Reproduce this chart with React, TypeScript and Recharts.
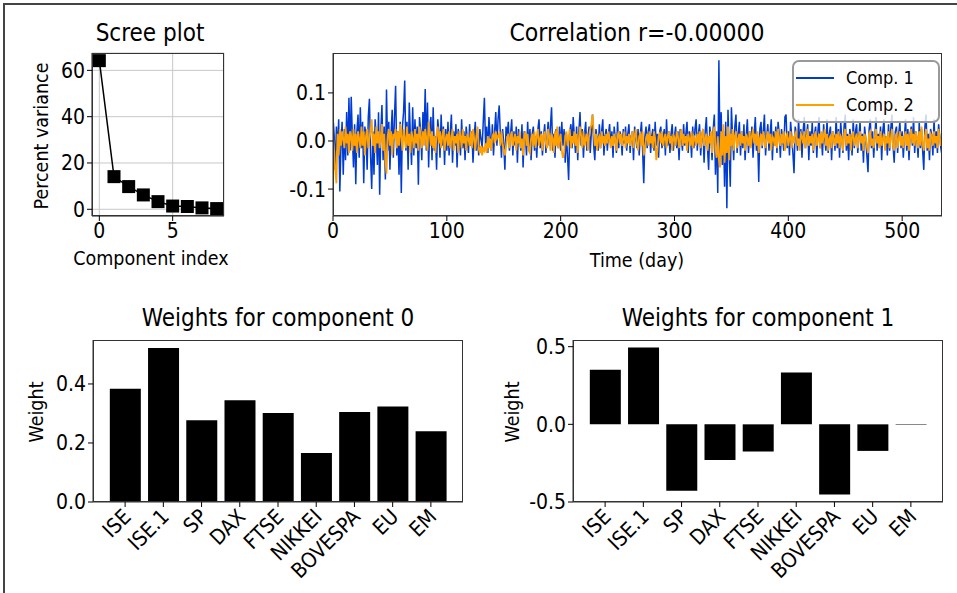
import React from 'react';
import { LineChart, Line, BarChart, Bar, XAxis, YAxis, CartesianGrid, Legend } from 'recharts';

const FONT = '"Liberation Sans Narrow", "DejaVu Sans Condensed", "Roboto Condensed", sans-serif';

// scree plot
const screeIndex = [0, 1, 2, 3, 4, 5, 6, 7, 8];
const screeVariance = [64.2, 14.1, 9.8, 6.2, 3.3, 1.4, 1.2, 0.6, 0.3];

// component weights
const markets = ['ISE', 'ISE.1', 'SP', 'DAX', 'FTSE', 'NIKKEI', 'BOVESPA', 'EU', 'EM'];
const weights0 = [0.384, 0.522, 0.277, 0.345, 0.302, 0.166, 0.305, 0.324, 0.24];
const weights1 = [0.351, 0.495, -0.427, -0.229, -0.175, 0.334, -0.452, -0.171, -0.003];

// component scores per day, in thousandths
const comp1Milli = [
  50, 12, -60, 30, -20, 45, -105, -10, 40, -70, 25, -40, 60, -30, 90, -20, 92, 10, -55, 35,
  -90, 20, 55, -35, 70, -15, 40, -88, 30, 10, -60, 50, 88, -30, -100, 20, -70, 45, 10, -50,
  60, -112, 20, 75, -40, 30, -80, 107, -20, 40, -60, 15, 65, -35, 50, 115, -30, 20, -70, 40,
  -108, 30, 60, 126, -20, 40, -60, 80, 10, -50, 70, -30, 45, -15, 30, -91, 50, 20, -40, 60,
  10, 108, -20, 80, -55, 30, 50, -40, 70, -20, 10, -60, 45, 20, -35, 55, -10, 30, -50, 25,
  -20, 40, -30, 15, 55, -45, 20, -10, 35, -55, 25, 10, -30, 45, -15, 20, -40, 30, 5, -25,
  35, -10, 20, -45, 10, 40, -20, 15, -30, 25, 5, -15, 40, 90, -10, 30, -25, 50, 10, -20,
  35, -30, 20, 60, -10, 45, 74, 15, -35, 25, -5, -60, 30, 10, 40, -20, 15, 45, -30, 20,
  -10, 30, -45, 25, 5, -20, 35, -55, 20, 10, -30, 40, -15, 25, -40, 15, 30, -20, 10, -35,
  25, 45, -15, 20, -30, 10, 35, -25, 5, 40, -10, 30, 70, -20, 15, -35, 25, 10, -15, 30,
  -20, 40, -10, 25, -45, 15, -30, -81, 20, 35, -15, 50, 10, -25, 30, -40, 20, 60, -10, 25,
  -35, 15, 40, -20, 10, 30, -25, 20, 55, -10, -40, 25, 5, -20, 35, -15, 20, 45, -30, 10,
  25, -20, 15, 35, -10, 20, -35, 30, 5, -25, 40, -15, 20, 10, -30, 25, -5, 30, -20, 15,
  35, -25, 10, 20, -40, 30, 5, -15, 25, -30, 15, 40, -20, -88, 10, 30, -15, 20, 35, -25,
  10, 25, -20, 40, -10, 15, -35, 20, 30, -15, 5, 25, -30, 45, -10, 20, -25, 15, 35, -20,
  10, 30, -15, 20, -40, 25, 5, -20, 35, -10, 15, 40, -25, 20, 10, -35, 30, -15, 25, 45,
  -20, 15, 35, -30, 10, 25, -45, 20, 50, -15, -60, 30, 10, -40, 25, 55, -70, 20, -108, 168,
  -30, 60, -50, 20, -95, 40, -140, 65, -20, -95, 70, 10, -40, 30, 55, -25, 15, 40, -30, 20,
  -15, 35, -40, 10, 45, -25, 20, -10, 30, -35, 15, 50, -20, 10, -85, 25, 40, -15, 20, 55,
  -30, 10, 35, -20, 15, 45, -40, 20, -10, 30, -25, 40, 15, -35, 25, 5, -20, 50, 55, -15,
  20, -30, 40, 10, -25, -67, 30, 15, -20, 45, -10, 25, -35, 20, 50, -15, 10, 35, -40, 20,
  -10, 40, -25, 15, 30, -35, 20, 50, -15, 10, -30, 35, 5, -20, 45, -25, 15, 30, -40, 20,
  10, -20, 50, -15, 25, -35, 40, 5, -25, 30, 55, -20, 15, -40, 25, 10, -30, 45, -15, 20,
  35, -25, 10, 40, -20, 15, -45, 30, 5, -30, -65, 25, 45, -15, 20, -35, 10, 50, -20, 15,
  -10, 30, -40, 20, 45, -15, 10, -30, 35, -20, 25, 55, -10, -45, 20, 30, -25, 15, 40, -15,
  20, -35, 10, 45, -20, 25, -40, 15, 30, -10, 50, -25, 20, 5, -35, 40, -15, 25, -20, -60,
  30, 55, -20, 15, -40, 25, 10, -30, 45, -15, 20, -25, 35, 10, -15, -30,
];

const comp2Milli = [
  10, -20, -60, -88, 15, -30, 25, -10, 20, 5, -15, 30, -5, 15, -25, 20, 10, -20, 25, -10,
  15, -25, 20, 5, -15, 30, -10, 20, -30, 10, 25, -15, 5, 20, 45, -10, 15, -25, 30, -5,
  20, -15, 10, 35, -20, 15, -40, -68, 10, 25, -10, 20, -30, 15, 5, 25, -15, 20, -10, 35,
  10, -20, 25, 5, -15, 30, -10, 15, -25, 20, 5, -15, 25, -5, 15, -20, 30, 10, -15, 20,
  -10, 25, 5, -20, 40, 15, -10, 20, -15, 10, -25, 15, 30, -5, 20, -15, 10, 25, -20, 5,
  15, -10, 20, -15, 5, 25, -20, 10, -5, 15, -25, 20, 10, -15, 25, -5, 10, -20, 15, 5,
  -10, 20, -15, 25, 5, -20, 10, 30, -15, -25, -10, -30, -15, -20, -5, -25, 10, -15, 5, -20,
  10, 15, -5, 20, 5, 10, 15, -10, 20, -5, -20, -30, -10, 5, 15, -15, 10, 20, -10, 5,
  15, -20, 10, -5, 20, -15, 5, -30, 10, 20, -10, 15, -20, -25, 5, 15, -10, 20, -15, 10,
  25, -10, 5, 15, -20, 10, 20, -5, -15, 25, 10, -20, 15, 5, -25, 20, -10, 30, -15, 5,
  15, -20, -35, -25, 10, 20, -10, 5, 25, -15, 10, -5, 20, -10, 15, -25, 5, 30, 10, -15,
  20, -10, 5, 15, -20, 10, 25, 35, 55, 20, -10, 15, -20, 5, 10, -15, 20, -5, 10, -10,
  15, -5, 20, 5, -15, 10, -10, 15, 5, -20, 10, 20, -5, 15, -10, 5, 20, -15, 10, -5,
  15, -10, 5, 20, -15, 10, 25, -5, -20, 10, 15, -10, 20, -30, -15, 5, 15, -10, 20, -5,
  10, -15, 20, 5, -40, -20, 10, 15, -5, 20, -10, 5, 15, -15, 10, 20, -5, 10, -20, 15,
  5, -10, 20, 10, -15, 5, 25, -10, 15, -5, 10, -20, 15, 5, -10, 20, -15, 10, 5, -10,
  15, -5, 20, -15, 10, 25, -10, 5, 15, -20, 10, -5, 20, -25, 15, 30, -15, -35, 10, -40,
  -55, 20, -30, 35, -45, 10, -25, 30, -40, 15, -10, 25, -20, 10, 20, -15, 5, 15, -10, 20,
  -5, 10, -20, 15, 5, -10, 20, -15, 10, 25, -5, 15, -10, 20, -25, 5, 15, -10, 20, 5,
  -15, 10, 20, -5, 15, -20, 10, 5, -10, 20, -15, 25, 5, -10, 15, -5, 20, -20, 10, 15,
  -10, 5, 20, -15, 10, -5, 15, 20, -10, 5, -20, 15, 10, -5, 20, -15, 5, 25, -10, 10,
  -5, 15, -20, 10, 20, -10, 5, 15, -15, 20, -5, 10, 25, -10, 15, -20, 5, 10, -15, 20,
  5, -10, 15, -5, 20, -15, 10, 5, -20, 15, 25, -10, 10, -5, 15, -20, 10, 20, -10, 5,
  15, -15, 10, 20, -5, 10, -20, 15, 5, -10, -25, 15, 20, -10, 5, -15, 10, 25, -5, 10,
  -15, 20, -10, 5, 15, -20, 10, -5, 20, -15, 5, 25, -10, -20, 10, 15, -15, 5, 20, -10,
  10, -15, 5, 20, -10, 15, -20, 10, 25, -5, 15, -10, 20, 5, -15, 20, -10, 30, -5, -20,
  10, 25, -15, 5, -20, 15, 10, -10, 20, -5, 10, -15, 25, 5, -10, 10,
];

const screeData = screeIndex.map((i, k) => ({ idx: i, pct: screeVariance[k] }));
const seriesData = comp1Milli.map((v, i) => ({ day: i, c1: v / 1000, c2: comp2Milli[i] / 1000 }));
const weightData0 = markets.map((m, i) => ({ name: m, w: weights0[i] }));
const weightData1 = markets.map((m, i) => ({ name: m, w: weights1[i] }));

const TICK_FS = 21;
const tickStyle = { fontSize: TICK_FS, fill: '#000', fontFamily: FONT };
const AX = '#333';
const Y_W = 60;

function Text({ x, y, size, rotate, children }: any) {
  return (
    <div
      style={{
        position: 'absolute', left: x, top: y, fontSize: size, fontFamily: FONT, color: '#000',
        whiteSpace: 'nowrap', lineHeight: 1,
        transform: `translate(-50%, -50%)${rotate ? ' rotate(-90deg)' : ''}`,
      }}
    >
      {children}
    </div>
  );
}

// box around the plotting area (matplotlib spines)
function Frame({ m, w, h, xH }: any) {
  return (
    <div
      style={{
        position: 'absolute', left: m.left + Y_W, top: m.top,
        width: w - m.left - m.right - Y_W, height: h - m.top - m.bottom - xH,
        border: `1px solid ${AX}`, boxSizing: 'border-box', pointerEvents: 'none',
      }}
    />
  );
}

const SquareDot = (props: any) => {
  const { cx, cy, index } = props;
  return <rect key={index} x={cx - 6.5} y={cy - 6.5} width={13} height={13} fill="#000" />;
};

// 45 degree labels hanging below-right of the tick
const RotTick = (props: any) => {
  const { x, y, payload } = props;
  return (
    <text
      transform={`translate(${x + 7},${y + 9}) rotate(-45)`}
      textAnchor="end"
      fontSize={TICK_FS}
      fontFamily={FONT}
      fill="#000"
    >
      {payload.value}
    </text>
  );
};

const renderLegend = (props: any) => (
  <div
    style={{
      width: 148, height: 63, boxSizing: 'border-box', border: '2px solid #999', borderRadius: 7,
      background: 'rgba(255,255,255,0.8)', padding: '2px 0 0 2px', fontFamily: FONT,
    }}
  >
    {(props.payload || []).map((p: any) => (
      <div key={p.value} style={{ display: 'flex', alignItems: 'center', height: 27 }}>
        <span style={{ width: 38, height: 0, borderTop: `2px solid ${p.color}`, marginRight: 12 }} />
        <span style={{ fontSize: 18, color: '#000' }}>{p.value}</span>
      </div>
    ))}
  </div>
);

function WeightChart({ data, domain, ticks, left, m }: any) {
  const W = left === 0 ? 480 : 477;
  const H = 303;
  return (
    <div style={{ position: 'absolute', left, top: 290, width: W, height: H }}>
      <BarChart width={W} height={H} data={data} margin={m} barCategoryGap="10%">
        <XAxis
          dataKey="name"
          interval={0}
          height={80}
          tick={RotTick}
          tickSize={5}
          tickLine={{ stroke: '#000' }}
          axisLine={{ stroke: AX }}
          padding={{ left: 13, right: 13 }}
        />
        <YAxis
          width={Y_W}
          type="number"
          domain={domain}
          ticks={ticks}
          allowDataOverflow
          tick={tickStyle}
          tickSize={5}
          tickLine={{ stroke: '#000' }}
          axisLine={{ stroke: AX }}
          tickFormatter={(v: number) => v.toFixed(1)}
        />
        <Bar dataKey="w" fill="#000" isAnimationActive={false} />
      </BarChart>
      <Frame m={m} w={W} h={H} xH={80} />
    </div>
  );
}

export default function App() {
  const screeM = { top: 53, right: 16, bottom: 14, left: 32 };
  const timeM = { top: 53, right: 15, bottom: 14, left: 13 };
  const bar0M = { top: 50, right: 17, bottom: 11, left: 33 };
  const bar1M = { top: 50, right: 14, bottom: 11, left: 33 };

  return (
    <div style={{ position: 'absolute', left: 0, top: 0, width: 957, height: 593, background: '#fff', overflow: 'hidden', fontFamily: FONT }}>
      <div style={{ position: 'absolute', left: 3, top: 3, width: 960, height: 600, borderTop: '2px solid #444', borderLeft: '2px solid #444' }} />

      {/* Scree plot */}
      <div style={{ position: 'absolute', left: 0, top: 0, width: 240, height: 280 }}>
        <LineChart width={240} height={280} data={screeData} margin={screeM}>
          <CartesianGrid stroke="#c8c8c8" strokeWidth={1} />
          <XAxis
            dataKey="idx" type="number" domain={[-0.5, 8.5]} ticks={[0, 5]} allowDataOverflow
            height={50} tick={tickStyle} tickSize={5} tickLine={{ stroke: '#000' }} axisLine={{ stroke: AX }}
          />
          <YAxis
            width={Y_W} type="number" domain={[-2.9, 67.5]} ticks={[0, 20, 40, 60]} allowDataOverflow
            tick={tickStyle} tickSize={5} tickLine={{ stroke: '#000' }} axisLine={{ stroke: AX }}
          />
          <Line dataKey="pct" stroke="#000" strokeWidth={1.5} dot={SquareDot} isAnimationActive={false} />
        </LineChart>
        <Frame m={screeM} w={240} h={280} xH={50} />
      </div>
      <Text x={150} y={33} size={24}>Scree plot</Text>
      <Text x={151} y={259} size={19.5}>Component index</Text>
      <Text x={42} y={136} size={19.5} rotate>Percent variance</Text>

      {/* Component scores over time */}
      <div style={{ position: 'absolute', left: 260, top: 0, width: 697, height: 280 }}>
        <LineChart width={697} height={280} data={seriesData} margin={timeM}>
          <XAxis
            dataKey="day" type="number" domain={[0, 535]} ticks={[0, 100, 200, 300, 400, 500]} allowDataOverflow
            height={50} tick={tickStyle} tickSize={5} tickLine={{ stroke: '#000' }} axisLine={{ stroke: AX }}
          />
          <YAxis
            width={Y_W} type="number" domain={[-0.156, 0.183]} ticks={[-0.1, 0, 0.1]} allowDataOverflow
            tick={tickStyle} tickSize={5} tickLine={{ stroke: '#000' }} axisLine={{ stroke: AX }}
            tickFormatter={(v: number) => v.toFixed(1)}
          />
          <Line dataKey="c1" name="Comp. 1" stroke="#003cd2" strokeWidth={1.5} dot={false} isAnimationActive={false} />
          <Line dataKey="c2" name="Comp. 2" stroke="#ff9f00" strokeWidth={1.8} dot={false} isAnimationActive={false} />
          <Legend
            layout="horizontal"
            verticalAlign="middle"
            align="center"
            content={renderLegend}
            wrapperStyle={{ left: 532, top: 60, width: 148, height: 63 }}
          />
        </LineChart>
        <Frame m={timeM} w={697} h={280} xH={50} />
      </div>
      <Text x={637} y={33} size={24.5}>Correlation r=-0.00000</Text>
      <Text x={637} y={261} size={19.5}>Time (day)</Text>

      {/* Weights */}
      <WeightChart data={weightData0} domain={[0, 0.549]} ticks={[0, 0.2, 0.4]} left={0} m={bar0M} />
      <Text x={278} y={318} size={24}>Weights for component 0</Text>
      <Text x={37} y={412} size={19.5} rotate>Weight</Text>

      <WeightChart data={weightData1} domain={[-0.5, 0.543]} ticks={[-0.5, 0, 0.5]} left={480} m={bar1M} />
      <Text x={758} y={318} size={24}>Weights for component 1</Text>
      <Text x={513} y={412} size={19.5} rotate>Weight</Text>
    </div>
  );
}
